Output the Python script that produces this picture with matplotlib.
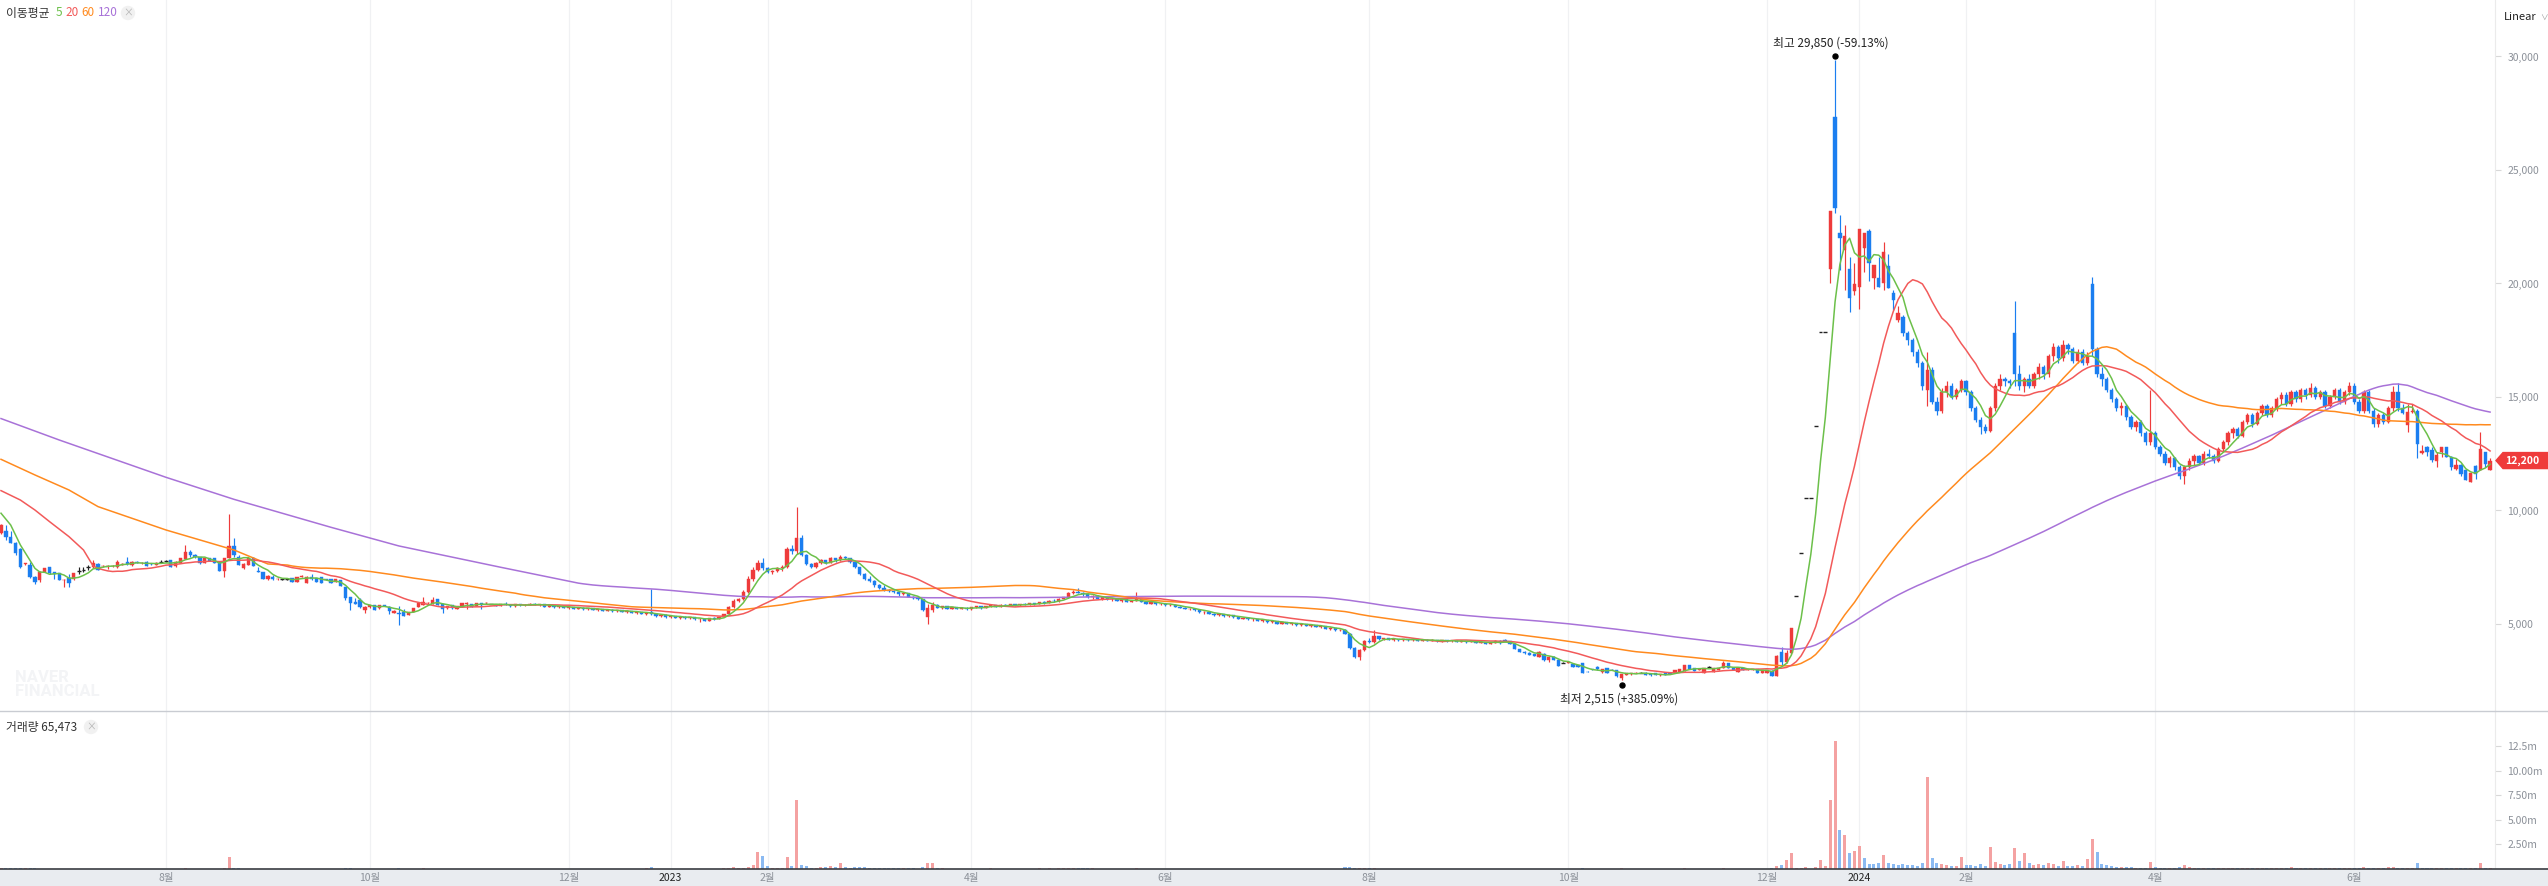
import numpy as np
import pandas as pd
import matplotlib
matplotlib.use("Agg")
import matplotlib.pyplot as plt
from matplotlib.patches import Polygon, Ellipse, Rectangle
from matplotlib.lines import Line2D
from matplotlib import transforms

plt.rcParams['font.family'] = ['Noto Sans CJK KR', 'DejaVu Sans']

# KRX closed days inside the window
holidays = ['2022-08-15', '2022-09-09', '2022-09-12', '2022-10-03', '2022-10-10', '2022-12-30',
            '2023-01-23', '2023-01-24', '2023-03-01', '2023-05-01', '2023-05-05', '2023-05-29',
            '2023-06-06', '2023-08-15', '2023-09-28', '2023-09-29', '2023-10-02', '2023-10-03',
            '2023-10-09', '2023-12-25', '2023-12-29', '2024-01-01', '2024-02-09', '2024-02-12',
            '2024-03-01', '2024-04-10', '2024-05-01', '2024-05-06', '2024-05-15', '2024-06-06']

opens = [
    9025, 9113, 8850, 8555, 8320, 7640, 7600, 7060, 6940, 7310,
    7500, 7290, 7230, 6930, 7020, 6970, 7350, 7380, 7520, 7500,
    7640, 7540, 7520, 7540, 7530, 7620, 7750, 7600, 7740, 7680,
    7750, 7660, 7600, 7750, 7790, 7820, 7560, 7700, 7850, 8190,
    8040, 7940, 7700, 7890, 7890, 7750, 7350, 7890, 8440, 7970,
    7450, 7600, 7890, 7350, 7280, 6970, 7090, 6970, 6970, 6970,
    7010, 6870, 7060, 6820, 7060, 7010, 7060, 6990, 6970, 6870,
    6940, 6650, 6200, 5980, 6060, 5620, 5730, 5840, 5690, 5840,
    5770, 5500, 5480, 5540, 5400, 5520, 5760, 5840, 5920, 5880,
    6090, 5880, 5690, 5840, 5650, 5770, 5880, 5880, 5810, 5930,
    5910, 5880, 5840, 5800, 5880, 5840, 5780, 5870, 5820, 5850,
    5900, 5830, 5860, 5770, 5820, 5740, 5780, 5700, 5760, 5680,
    5720, 5640, 5700, 5620, 5660, 5580, 5630, 5560, 5600, 5530,
    5580, 5500, 5540, 5440, 5520, 5450, 5350, 5400, 5300, 5360,
    5280, 5320, 5250, 5310, 5200, 5230, 5150, 5260, 5220, 5310,
    5420, 5750, 6020, 6080, 6400, 7000, 7400, 7700, 7450, 7300,
    7350, 7450, 7500, 8300, 8200, 8800, 8050, 7650, 7500, 7700,
    7800, 7700, 7900, 7800, 7950, 7900, 7750, 7500, 7200, 7000,
    6900, 6700, 6600, 6500, 6450, 6400, 6300, 6350, 6200, 6150,
    6100, 5300, 5600, 5850, 5720, 5780, 5680, 5740, 5660, 5720,
    5650, 5740, 5780, 5700, 5790, 5820, 5760, 5840, 5800, 5870,
    5820, 5880, 5860, 5920, 5870, 5960, 5930, 6030, 6000, 6120,
    6180, 6350, 6420, 6380, 6300, 6200, 6250, 6100, 6180, 6080,
    6120, 6020, 6080, 5980, 6030, 6100, 5980, 5900, 5960, 5870,
    5900, 5820, 5850, 5760, 5720, 5660, 5680, 5600, 5520, 5540,
    5450, 5380, 5420, 5340, 5380, 5290, 5240, 5280, 5200, 5230,
    5150, 5180, 5080, 5120, 5020, 5080, 5000, 5040, 4960, 5000,
    4920, 4950, 4870, 4900, 4800, 4830, 4720, 4750, 4580, 3950,
    3560, 3850, 4250, 4200, 4450, 4320, 4380, 4300, 4350, 4280,
    4340, 4290, 4330, 4270, 4310, 4250, 4300, 4240, 4280, 4230,
    4270, 4210, 4260, 4200, 4240, 4170, 4210, 4140, 4180, 4270,
    4300, 4260, 4120, 3900, 3780, 3740, 3660, 3560, 3700, 3400,
    3560, 3420, 3300, 3280, 3230, 3200, 3270, 2900, 3010, 3120,
    2870, 3050, 2990, 2970, 2610, 2750, 2780, 2850, 2860, 2860,
    2800, 2830, 2740, 2830, 2860, 2830, 2900, 2940, 3190, 3050,
    2970, 2860, 3120, 2900, 2970, 3070, 3290, 3080, 2900, 3050,
    2970, 2970, 3000, 2830, 2860, 2940, 2710, 3780, 3340, 3710,
    6250, 8130, 10560, 10560, 13730, 17850, 17850, 20640, 27320, 22210,
    21480, 20640, 19680, 19850, 21550, 22310, 20230, 20260, 20040, 20750,
    19580, 18400, 18520, 17800, 17500, 17000, 16500, 15300, 16200, 14800,
    14400, 15200, 15500, 15000, 15300, 15700, 15200, 14500, 14000, 13700,
    13500, 14500, 15500, 15800, 15700, 17800, 16000, 15500, 15800, 15500,
    16000, 16300, 16000, 16800, 17200, 16700, 17300, 17100, 16600, 17000,
    16500, 19960, 17100, 16000, 15800, 15300, 14900, 14500, 14600, 14100,
    13700, 13900, 13400, 13000, 13400, 12800, 12500, 12100, 12300, 11900,
    11500, 11900, 12200, 12400, 12100, 12500, 12400, 12200, 12700, 13000,
    13400, 13600, 13300, 13900, 14200, 13800, 14300, 14600, 14200, 14500,
    14900, 15100, 14700, 15200, 14900, 15300, 15100, 15400, 15000, 15200,
    14600, 15000, 15300, 14800, 15200, 15500, 14800, 14400, 15200, 14400,
    13800, 14200, 13900, 14500, 15200, 14500, 13770, 14350, 14400, 12550,
    12780, 12680, 12170, 12560, 12780, 12340, 11840, 11990, 11770, 11260,
    11950, 11770, 12580, 11800,
]

highs = [
    9400, 9370, 9080, 8600, 8350, 7700, 7750, 7100, 7350, 7480,
    7520, 7300, 7260, 6970, 7190, 7260, 7500, 7500, 7600, 7820,
    7680, 7600, 7620, 7600, 7800, 7700, 7940, 7780, 7760, 7720,
    7760, 7680, 7720, 7800, 7820, 7840, 7780, 7920, 8480, 8260,
    8080, 7960, 7900, 7920, 7900, 7760, 7890, 9850, 8780, 8040,
    7700, 7900, 7970, 7500, 7290, 7140, 7160, 7010, 6990, 6990,
    7030, 7070, 7140, 7100, 7190, 7020, 7070, 7000, 6980, 6980,
    6950, 6650, 6210, 6130, 6130, 5780, 5850, 5850, 5850, 5850,
    5780, 5600, 5800, 5640, 5550, 5700, 5920, 6200, 5960, 6200,
    6100, 5890, 5800, 5850, 5800, 5920, 5990, 5890, 5920, 5940,
    5980, 5900, 5850, 5900, 5950, 5870, 5900, 5880, 5860, 5930,
    5920, 5880, 5870, 5850, 5830, 5800, 5790, 5780, 5770, 5740,
    5730, 5720, 5710, 5680, 5670, 5650, 5640, 5620, 5610, 5600,
    5590, 5560, 5550, 5520, 6560, 5480, 5420, 5420, 5380, 5370,
    5350, 5340, 5330, 5330, 5260, 5240, 5280, 5300, 5330, 5450,
    5800, 6100, 6150, 6500, 7100, 7500, 7800, 7900, 7500, 7400,
    7500, 7600, 8400, 8500, 10150, 8900, 8100, 7700, 7750, 7850,
    7820, 7950, 7920, 8050, 8000, 7920, 7760, 7520, 7250, 7100,
    6950, 6750, 6700, 6550, 6500, 6420, 6400, 6360, 6250, 6180,
    6120, 5900, 5950, 5870, 5800, 5790, 5760, 5750, 5740, 5730,
    5760, 5800, 5790, 5800, 5850, 5830, 5860, 5880, 5890, 5880,
    5900, 5920, 5940, 5930, 5980, 6000, 6050, 6080, 6150, 6200,
    6400, 6500, 6580, 6420, 6350, 6280, 6260, 6200, 6200, 6150,
    6130, 6100, 6090, 6050, 6400, 6120, 6000, 5980, 5970, 5920,
    5910, 5880, 5860, 5800, 5740, 5700, 5690, 5620, 5560, 5550,
    5480, 5450, 5430, 5400, 5390, 5330, 5300, 5290, 5260, 5240,
    5200, 5190, 5150, 5130, 5100, 5090, 5060, 5050, 5020, 5010,
    4980, 4960, 4920, 4910, 4850, 4840, 4780, 4760, 4600, 4000,
    3900, 4300, 4400, 4720, 4480, 4400, 4390, 4380, 4360, 4360,
    4350, 4360, 4340, 4330, 4320, 4320, 4310, 4300, 4290, 4290,
    4280, 4280, 4270, 4260, 4250, 4230, 4220, 4200, 4290, 4290,
    4320, 4270, 4130, 3920, 3800, 3760, 3700, 3800, 3720, 3570,
    3570, 3440, 3320, 3330, 3240, 3210, 3280, 2950, 3020, 3130,
    3010, 3060, 3000, 2980, 2790, 2830, 2860, 2870, 2880, 2870,
    2810, 2840, 2810, 2840, 2870, 2980, 3010, 3200, 3200, 3060,
    3020, 3050, 3130, 3050, 3080, 3370, 3300, 3090, 3060, 3060,
    3020, 3020, 3010, 2980, 2980, 2960, 3650, 4000, 3850, 4820,
    6250, 8130, 10560, 10560, 13730, 17850, 17850, 23200, 29850, 23020,
    22580, 21180, 20900, 22400, 22240, 22400, 20820, 21150, 21840, 21300,
    19700, 19000, 18600, 17900, 17600, 17100, 16600, 17000, 16300, 15000,
    15400, 15700, 15600, 15400, 15800, 15750, 15300, 14600, 14100, 13800,
    14600, 15600, 16000, 15900, 15800, 19250, 16400, 15900, 16000, 16100,
    16500, 16400, 16900, 17400, 17300, 17500, 17400, 17200, 17100, 17100,
    17000, 20300, 17200, 16300, 15900, 15400, 15000, 14800, 14700, 14200,
    14000, 14000, 13500, 15300, 13500, 12900, 12600, 12400, 12350, 12000,
    12000, 12300, 12500, 12450, 12600, 12700, 12500, 12800, 13100, 13500,
    13700, 13700, 14000, 14300, 14300, 14400, 14700, 14700, 14600, 15000,
    15200, 15200, 15300, 15300, 15400, 15400, 15600, 15500, 15300, 15300,
    15100, 15400, 15400, 15300, 15670, 15600, 14900, 15300, 15300, 14500,
    14300, 14300, 14600, 15500, 15600, 14700, 14700, 14700, 14450, 12900,
    12830, 12780, 12580, 12780, 12800, 12420, 12260, 12040, 11840, 11660,
    12000, 13460, 12580, 12300,
]

lows = [
    8950, 8700, 8560, 8040, 7480, 7600, 7010, 6750, 6870, 7280,
    7200, 6970, 6920, 6640, 6650, 6950, 7200, 7300, 7380, 7450,
    7380, 7500, 7420, 7500, 7480, 7600, 7600, 7560, 7680, 7660,
    7540, 7620, 7580, 7700, 7750, 7500, 7530, 7680, 7850, 7970,
    7920, 7650, 7680, 7780, 7680, 7340, 7090, 7890, 7970, 7600,
    7440, 7600, 7560, 7270, 7000, 6940, 6940, 6960, 6950, 6950,
    6860, 6860, 7050, 6810, 6960, 6860, 6810, 6930, 6810, 6860,
    6670, 6060, 5620, 5870, 5700, 5480, 5720, 5610, 5680, 5790,
    5440, 5490, 4960, 5340, 5390, 5510, 5750, 5830, 5900, 5870,
    5830, 5500, 5680, 5680, 5640, 5760, 5640, 5760, 5800, 5640,
    5900, 5860, 5790, 5780, 5820, 5760, 5770, 5800, 5780, 5830,
    5820, 5790, 5760, 5750, 5720, 5700, 5690, 5680, 5660, 5650,
    5620, 5630, 5600, 5580, 5560, 5560, 5540, 5520, 5510, 5500,
    5480, 5460, 5420, 5400, 5400, 5320, 5300, 5280, 5260, 5250,
    5240, 5220, 5200, 5180, 5100, 5120, 5130, 5180, 5200, 5290,
    5400, 5700, 5950, 6050, 6350, 6900, 7350, 7400, 7250, 7200,
    7300, 7350, 7480, 8100, 8100, 8000, 7600, 7450, 7480, 7650,
    7650, 7680, 7750, 7780, 7850, 7700, 7450, 7150, 6950, 6850,
    6650, 6550, 6450, 6400, 6350, 6250, 6280, 6180, 6100, 6050,
    5580, 5000, 5550, 5700, 5680, 5660, 5650, 5640, 5640, 5620,
    5630, 5700, 5680, 5690, 5760, 5740, 5750, 5780, 5790, 5800,
    5810, 5840, 5850, 5840, 5860, 5900, 5920, 5980, 5990, 6080,
    6150, 6300, 6350, 6250, 6150, 6100, 6080, 6050, 6050, 6000,
    6000, 5980, 5950, 5950, 6000, 5950, 5880, 5880, 5850, 5820,
    5800, 5780, 5740, 5700, 5640, 5600, 5580, 5500, 5450, 5430,
    5360, 5350, 5320, 5300, 5270, 5220, 5200, 5180, 5150, 5120,
    5100, 5060, 5050, 5000, 4990, 4980, 4950, 4930, 4920, 4900,
    4880, 4850, 4820, 4780, 4750, 4700, 4680, 4550, 3900, 3500,
    3400, 3800, 4150, 4180, 4300, 4280, 4280, 4270, 4260, 4260,
    4260, 4270, 4250, 4250, 4230, 4240, 4220, 4220, 4200, 4210,
    4190, 4200, 4180, 4190, 4150, 4160, 4120, 4120, 4160, 4140,
    4250, 4100, 3880, 3760, 3700, 3620, 3580, 3550, 3380, 3330,
    3400, 3140, 3280, 3270, 3110, 3110, 2820, 2880, 2990, 2990,
    2860, 2820, 2960, 2680, 2515, 2740, 2770, 2840, 2840, 2750,
    2730, 2750, 2730, 2740, 2780, 2820, 2890, 2930, 3000, 2940,
    2960, 2850, 3110, 2890, 2960, 3060, 3070, 2970, 2890, 2970,
    2960, 2960, 2820, 2820, 2850, 2700, 2700, 3190, 3300, 3700,
    6250, 8130, 10560, 10560, 13730, 17850, 17850, 20030, 23120, 20590,
    19710, 18760, 19500, 18880, 20500, 20120, 19750, 19860, 19700, 19790,
    18830, 18300, 17700, 17300, 16800, 16300, 15300, 14600, 14700, 14200,
    14300, 15000, 14900, 14900, 15200, 15100, 14400, 13900, 13380, 13400,
    13450, 14400, 15300, 15500, 15400, 15500, 15300, 15200, 15400, 15400,
    15800, 15800, 15900, 16600, 16500, 16600, 16900, 16500, 16500, 16400,
    16400, 16800, 15900, 15500, 15200, 14800, 14400, 14200, 14000, 13600,
    13500, 13300, 12900, 12900, 12700, 12400, 12000, 11900, 11800, 11400,
    11150, 11800, 12000, 12000, 12000, 12300, 12100, 12150, 12600, 12900,
    13200, 13200, 13250, 13800, 13700, 13750, 14200, 14100, 14100, 14400,
    14700, 14600, 14600, 14800, 14800, 14900, 15000, 14900, 14900, 14500,
    14500, 14900, 14700, 14700, 15100, 14700, 14300, 14300, 14300, 13700,
    13700, 13800, 13850, 14400, 14400, 14250, 13470, 14300, 12310, 12500,
    12400, 12150, 11920, 12340, 12340, 11780, 11780, 11540, 11360, 11260,
    11390, 11770, 11920, 11800,
]

closes = [
    9360, 8820, 8590, 8120, 7500, 7670, 7090, 6870, 7310, 7450,
    7230, 7190, 6940, 6960, 6790, 7230, 7350, 7380, 7520, 7670,
    7380, 7570, 7570, 7560, 7750, 7640, 7640, 7750, 7700, 7700,
    7560, 7640, 7700, 7750, 7790, 7530, 7750, 7890, 8190, 8040,
    7940, 7670, 7890, 7790, 7700, 7350, 7890, 8440, 8040, 7600,
    7640, 7890, 7560, 7280, 7000, 7130, 6970, 6990, 6970, 6970,
    6870, 7060, 7130, 7090, 6970, 6870, 6820, 6940, 6820, 6970,
    6680, 6130, 5910, 5880, 5770, 5770, 5840, 5620, 5840, 5800,
    5590, 5590, 5430, 5350, 5540, 5690, 5910, 5980, 5930, 6060,
    5840, 5650, 5790, 5690, 5790, 5910, 5910, 5770, 5910, 5840,
    5930, 5880, 5800, 5880, 5840, 5780, 5870, 5820, 5850, 5900,
    5830, 5860, 5770, 5820, 5740, 5780, 5700, 5760, 5680, 5720,
    5640, 5700, 5620, 5660, 5580, 5630, 5560, 5600, 5530, 5580,
    5500, 5540, 5440, 5500, 5450, 5350, 5400, 5300, 5360, 5280,
    5320, 5250, 5310, 5200, 5230, 5150, 5260, 5220, 5310, 5420,
    5750, 6020, 6080, 6400, 7000, 7400, 7700, 7450, 7300, 7350,
    7450, 7500, 8300, 8200, 8800, 8050, 7650, 7500, 7700, 7800,
    7700, 7900, 7800, 7950, 7900, 7750, 7500, 7200, 7000, 6900,
    6700, 6600, 6500, 6450, 6400, 6300, 6350, 6200, 6150, 6100,
    5600, 5700, 5850, 5720, 5780, 5680, 5740, 5660, 5720, 5650,
    5740, 5780, 5700, 5790, 5820, 5760, 5840, 5800, 5870, 5820,
    5880, 5860, 5920, 5870, 5960, 5930, 6030, 6000, 6120, 6180,
    6350, 6420, 6380, 6300, 6200, 6250, 6100, 6180, 6080, 6120,
    6020, 6080, 5980, 6030, 6100, 5980, 5900, 5960, 5870, 5900,
    5820, 5850, 5760, 5720, 5660, 5680, 5600, 5520, 5540, 5450,
    5380, 5420, 5340, 5380, 5290, 5240, 5280, 5200, 5230, 5150,
    5180, 5080, 5120, 5020, 5080, 5000, 5040, 4960, 5000, 4920,
    4950, 4870, 4900, 4800, 4830, 4720, 4750, 4580, 3950, 3560,
    3850, 4250, 4200, 4450, 4320, 4380, 4300, 4350, 4280, 4340,
    4290, 4330, 4270, 4310, 4250, 4300, 4240, 4280, 4230, 4270,
    4210, 4260, 4200, 4240, 4170, 4210, 4140, 4180, 4270, 4150,
    4260, 4120, 3900, 3780, 3720, 3640, 3600, 3770, 3400, 3560,
    3420, 3150, 3300, 3310, 3120, 3120, 2830, 2890, 3000, 3000,
    3000, 2830, 2970, 2690, 2780, 2820, 2850, 2860, 2860, 2760,
    2740, 2760, 2800, 2750, 2790, 2970, 3000, 3190, 3010, 2950,
    3010, 3040, 3120, 3040, 3070, 3290, 3080, 2980, 3050, 2980,
    3010, 3010, 2830, 2970, 2970, 2710, 3590, 3340, 3710, 4810,
    6250, 8130, 10560, 10560, 13730, 17850, 17850, 23190, 23340, 21990,
    22090, 19360, 19980, 22400, 22240, 20920, 20820, 19860, 21370, 19790,
    19270, 18700, 17800, 17500, 17000, 16500, 15500, 16200, 14800, 14400,
    15200, 15500, 15000, 15300, 15700, 15200, 14500, 14000, 13700, 13500,
    14500, 15500, 15800, 15700, 15600, 16000, 15500, 15800, 15500, 16000,
    16300, 16000, 16800, 17200, 16700, 17300, 17100, 16600, 17000, 16500,
    16800, 17100, 16000, 15800, 15300, 14900, 14500, 14600, 14100, 13700,
    13900, 13400, 13000, 13400, 12800, 12500, 12100, 12300, 11900, 11500,
    11900, 12200, 12400, 12100, 12500, 12400, 12200, 12700, 13000, 13400,
    13600, 13300, 13900, 14200, 13800, 14300, 14600, 14200, 14500, 14900,
    15100, 14700, 15200, 14900, 15300, 15100, 15400, 15000, 15200, 14600,
    15000, 15300, 14800, 15200, 15500, 14800, 14400, 15200, 14400, 13800,
    14200, 13900, 14500, 15200, 14500, 14300, 14350, 14400, 12930, 12600,
    12560, 12210, 12430, 12780, 12340, 11920, 11990, 11590, 11360, 11660,
    11590, 12700, 12040, 12200,
]

# volume in thousand shares
volumes_k = [
    110, 90, 120, 80, 130, 60, 100, 70, 50, 40,
    40, 30, 40, 50, 40, 30, 20, 20, 30, 40,
    30, 20, 20, 20, 30, 20, 20, 20, 15, 15,
    20, 15, 15, 10, 10, 20, 20, 30, 60, 40,
    30, 30, 30, 20, 20, 40, 90, 1220, 150, 80,
    40, 50, 40, 40, 50, 30, 30, 20, 15, 15,
    20, 20, 20, 20, 20, 20, 30, 20, 20, 20,
    40, 90, 80, 40, 40, 40, 30, 30, 20, 20,
    30, 20, 60, 30, 20, 30, 40, 60, 20, 40,
    30, 40, 20, 20, 20, 30, 30, 20, 20, 30,
    20, 15, 20, 25, 20, 20, 25, 15, 15, 20,
    20, 15, 20, 15, 20, 15, 15, 20, 15, 15,
    15, 20, 15, 15, 20, 15, 15, 20, 15, 20,
    20, 15, 20, 60, 180, 40, 30, 25, 20, 20,
    20, 20, 25, 30, 40, 35, 50, 40, 40, 60,
    120, 200, 100, 120, 250, 400, 1700, 1300, 300, 100,
    80, 100, 1200, 300, 7000, 400, 300, 150, 150, 250,
    200, 300, 250, 600, 200, 150, 200, 250, 200, 150,
    150, 100, 100, 80, 80, 80, 60, 60, 60, 50,
    200, 650, 650, 100, 60, 50, 50, 40, 40, 40,
    40, 50, 40, 40, 60, 40, 50, 40, 50, 40,
    40, 40, 50, 40, 60, 50, 70, 50, 80, 90,
    150, 120, 100, 80, 60, 60, 50, 50, 40, 40,
    40, 40, 30, 30, 80, 40, 30, 30, 30, 30,
    30, 25, 25, 30, 30, 25, 25, 30, 25, 25,
    25, 20, 20, 20, 25, 25, 20, 20, 20, 25,
    20, 25, 20, 25, 20, 20, 20, 25, 20, 20,
    20, 25, 20, 25, 20, 25, 20, 200, 180, 150,
    120, 100, 60, 90, 40, 30, 30, 25, 25, 20,
    20, 20, 20, 20, 20, 20, 15, 20, 15, 20,
    15, 15, 20, 15, 15, 20, 15, 15, 30, 20,
    25, 30, 40, 30, 25, 30, 25, 40, 30, 35,
    25, 40, 15, 20, 25, 20, 60, 30, 25, 25,
    30, 30, 20, 40, 60, 30, 25, 20, 15, 20,
    15, 15, 20, 15, 15, 30, 30, 60, 30, 20,
    20, 25, 15, 25, 30, 60, 30, 20, 25, 20,
    20, 20, 30, 25, 25, 100, 340, 450, 900, 1600,
    100, 150, 240, 50, 200, 900, 300, 7000, 13000, 4000,
    3500, 1600, 1800, 2300, 1100, 500, 500, 600, 1400, 600,
    500, 400, 500, 400, 400, 350, 600, 9400, 1100, 600,
    500, 400, 300, 300, 1250, 400, 400, 300, 500, 300,
    2200, 700, 500, 400, 500, 2100, 800, 1600, 600, 400,
    500, 400, 600, 500, 300, 800, 300, 300, 400, 300,
    1000, 3100, 1760, 500, 400, 300, 250, 200, 200, 200,
    150, 150, 150, 750, 200, 150, 150, 120, 150, 200,
    400, 250, 150, 100, 120, 100, 80, 100, 150, 150,
    150, 100, 120, 150, 100, 120, 150, 100, 80, 120,
    150, 100, 200, 100, 100, 80, 100, 80, 80, 100,
    100, 120, 100, 80, 150, 100, 100, 250, 100, 120,
    100, 80, 250, 200, 150, 100, 120, 80, 580, 100,
    100, 80, 60, 80, 70, 80, 60, 70, 80, 90,
    60, 580, 150, 65.473,
]

# moving-average values (before the window fills)
ma5_head_x, ma5_head_y = [0, 2], [9880, 9360]
ma20_head_x = [0, 4, 7, 10, 14, 17]
ma20_head_y = [10875, 10460, 10020, 9510, 8850, 8260]
ma60_head_x = [0, 7, 14, 20, 27, 34, 41, 48, 55]
ma60_head_y = [12255, 11565, 10904, 10170, 9656, 9142, 8702, 8262, 7645]
ma120_head_x = [0, 12, 34, 48, 68, 82, 103]
ma120_head_y = [14050, 13106, 11462, 10493, 9260, 8438, 7498]

price_ticks = [5000, 10000, 15000, 20000, 25000, 30000]
vol_ticks = [2.5e6, 5e6, 7.5e6, 10e6, 12.5e6]
vol_tick_labels = ['2.50m', '5.00m', '7.50m', '10.00m', '12.5m']

# ---------------------------------------------------------------
dates = pd.bdate_range('2022-06-14', '2024-07-12')
dates = dates[~dates.isin(pd.to_datetime(holidays))]
n = len(dates)
assert len(opens) == n and len(highs) == n and len(lows) == n and len(closes) == n and len(volumes_k) == n, \
    (n, len(opens), len(highs), len(lows), len(closes), len(volumes_k))

o = np.array(opens, float)
c = np.array(closes, float)
h = np.maximum(np.array(highs, float), np.maximum(o, c))
l = np.minimum(np.array(lows, float), np.minimum(o, c))
vol = np.array(volumes_k, float) * 1000
x = np.arange(n)

RED = '#ee3b3b'
BLUE = '#1b7ef0'
VRED = '#f4a2a2'
VBLUE = '#8bbaf2'
GRID = '#f0f1f3'

W, H = 2548, 886
fig = plt.figure(figsize=(W / 100, H / 100), dpi=100)
fig.patch.set_facecolor('white')


def fx(px):
    return px / W


def fy(py):
    return 1 - py / H


ax = fig.add_axes([0, fy(711), fx(2495), 711 / H])
axv = fig.add_axes([0, fy(869), fx(2495), (869 - 711) / H])

step = 4.852
xlim = (-1 / step, (2495 - 1) / step)
for a in (ax, axv):
    a.set_xlim(*xlim)
    a.set_facecolor('none')
    for s in ('top', 'left', 'bottom'):
        a.spines[s].set_visible(False)
    a.spines['right'].set_color('#ebebeb')
    a.yaxis.tick_right()
    a.tick_params(axis='y', length=4, width=0.8, color='#d8d8d8', labelsize=7.5,
                  labelcolor='#8c9199', pad=5)
    a.tick_params(axis='x', length=0, labelbottom=False)

ax.set_ylim(1167, 32489)
axv.set_ylim(0, 16.06e6)

# month gridlines + labels
df = pd.DataFrame({'d': dates})
firsts = df.groupby([df.d.dt.year, df.d.dt.month]).head(1).index[1:]
tick_pos, tick_lab = [], []
for i in firsts:
    m = dates[i].month
    if m == 1:
        tick_pos.append(i)
        tick_lab.append(str(dates[i].year))
    elif m % 2 == 0:
        tick_pos.append(i)
        tick_lab.append(f'{m}월')
for p in tick_pos:
    ax.axvline(p, color=GRID, lw=0.9, zorder=0)
    axv.axvline(p, color=GRID, lw=0.9, zorder=0)

# watermark (under everything)
fig.text(fx(15), fy(677), 'NAVER', fontsize=12, weight='bold', color='#f3f4f6', va='center',
         family='Roboto', zorder=0)
fig.text(fx(15), fy(692), 'FINANCIAL', fontsize=12, weight='bold', color='#f3f4f6', va='center',
         family='Roboto', zorder=0)

# candles
col = np.where(c > o, RED, np.where(c < o, BLUE, '#222222'))
ax.vlines(x, l, h, colors=col, lw=0.85, zorder=3)
flat = c == o
ax.bar(x[~flat], np.abs(c - o)[~flat], bottom=np.minimum(o, c)[~flat], width=0.68,
       color=col[~flat], edgecolor=col[~flat], lw=0.3, zorder=3)
ax.hlines(c[flat], x[flat] - 0.4, x[flat] + 0.4, colors=col[flat], lw=1.0, zorder=3)

# moving averages
s = pd.Series(c)
for win, mcol, hx, hy in [(120, '#a872d8', ma120_head_x, ma120_head_y),
                          (60, '#ff8a1e', ma60_head_x, ma60_head_y),
                          (20, '#f25a5a', ma20_head_x, ma20_head_y),
                          (5, '#6cc04a', ma5_head_x, ma5_head_y)]:
    m = s.rolling(win).mean().to_numpy()
    xs = list(hx) + list(x[win - 1:])
    ys = list(hy) + list(m[win - 1:])
    ax.plot(xs, ys, color=mcol, lw=1.1, zorder=4)

ax.set_yticks(price_ticks)
ax.set_yticklabels([f'{t:,}' for t in price_ticks])

# volume
prev = np.r_[o[0], c[:-1]]
vcol = np.where(c >= prev, VRED, VBLUE)
axv.bar(x, vol, width=0.62, color=vcol, lw=0, zorder=3)
axv.set_yticks(vol_ticks)
axv.set_yticklabels(vol_tick_labels)

# highest / lowest markers
hi_i = int(np.argmax(h))
lo_i = int(np.argmin(l))
last = c[-1]
up_off = transforms.offset_copy(ax.transData, fig=fig, x=0, y=4, units='dots')
dn_off = transforms.offset_copy(ax.transData, fig=fig, x=0, y=-5, units='dots')
ax.plot(hi_i, h[hi_i], 'o', ms=3.6, color='black', transform=up_off, zorder=6, clip_on=False)
ax.plot(lo_i, l[lo_i], 'o', ms=3.6, color='black', transform=dn_off, zorder=6, clip_on=False)
ax.annotate(f'최고 {h[hi_i]:,.0f} ({(last - h[hi_i]) / h[hi_i] * 100:+.2f}%)', xy=(hi_i, h[hi_i]),
            xytext=(-3, 12.5), textcoords='offset points', ha='center', va='center',
            fontsize=8.5, color='#222222', zorder=6)
ax.annotate(f'최저 {l[lo_i]:,.0f} ({(last - l[lo_i]) / l[lo_i] * 100:+.2f}%)', xy=(lo_i, l[lo_i]),
            xytext=(-2, -13.5), textcoords='offset points', ha='center', va='center',
            fontsize=8.5, color='#222222', zorder=6)

# frame lines / bottom band
fig.add_artist(Rectangle((0, 0), 1, 17 / H, transform=fig.transFigure, color='#e9ecf0', zorder=0))
fig.add_artist(Line2D([0, 1], [fy(711)] * 2, transform=fig.transFigure, color='#c9ccd2', lw=1.0))
fig.add_artist(Line2D([0, 1], [fy(869)] * 2, transform=fig.transFigure, color='#3a3d42', lw=1.2))

# x labels inside the band
bt = transforms.blended_transform_factory(axv.transData, fig.transFigure)
for p, lab in zip(tick_pos, tick_lab):
    fig.text(p, fy(878), lab, transform=bt, ha='center', va='center', fontsize=7.5,
             color='#222222' if lab.isdigit() else '#8c9199')

# last price badge
fig.canvas.draw()
yd = ax.transData.transform((0, last))[1]
yc = H - yd
pts = [(2496, yc), (2503, yc - 8), (2548, yc - 8), (2548, yc + 8), (2503, yc + 8)]
fig.add_artist(Polygon([(fx(a), fy(b)) for a, b in pts], closed=True, transform=fig.transFigure,
                       color='#ef3b3b', zorder=10))
fig.text(fx(2505), fy(yc), f'{last:,.0f}', ha='left', va='center', fontsize=7.5, color='white',
         weight='bold', zorder=11)

# header texts
fig.text(fx(6), fy(13), '이동평균', fontsize=8.5, color='#333333', va='center')
for xx, lab, lc in [(56, '5', '#6cc04a'), (65, '20', '#f25a5a'), (81, '60', '#ff8a1e'), (98, '120', '#a872d8')]:
    fig.text(fx(xx), fy(13), lab, fontsize=8.5, color=lc, va='center')
fig.text(fx(6), fy(727), f'거래량 {vol[-1]:,.0f}', fontsize=8.5, color='#333333', va='center')
for cx, cy in [(128, 13), (91, 727)]:
    fig.add_artist(Ellipse((fx(cx), fy(cy)), 13 / W, 13 / H, transform=fig.transFigure,
                           color='#f1f1f1', zorder=5))
    fig.text(fx(cx), fy(cy), '×', fontsize=7, color='#b5b5b5', ha='center', va='center', zorder=6)

fig.text(fx(2504), fy(17), 'Linear', fontsize=8, color='#222222', va='center')
fig.text(fx(2544), fy(18), '∨', fontsize=5.5, color='#9a9a9a', va='center', ha='center')

fig.savefig('out.png', dpi=100)
